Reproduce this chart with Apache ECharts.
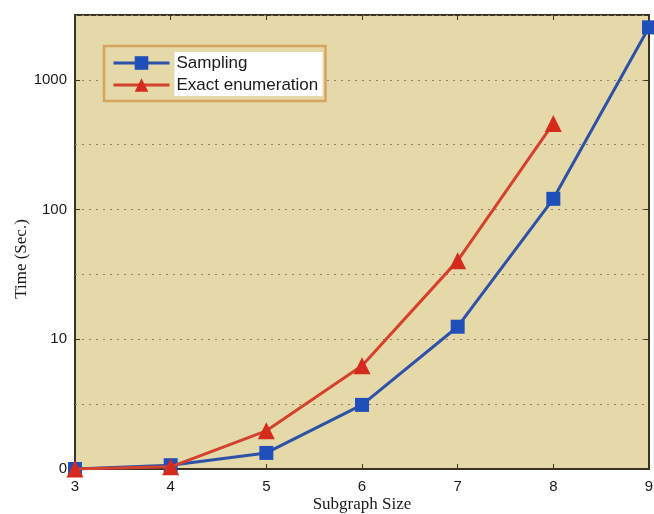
<!DOCTYPE html>
<html>
<head>
<meta charset="utf-8">
<script src="https://cdn.jsdelivr.net/npm/echarts@6/dist/echarts.min.js"></script>
<style>
  html, body { margin: 0; padding: 0; background: #ffffff; overflow: hidden; }
  #chart { width: 654px; height: 514px; }
</style>
</head>
<body>
<div id="chart"></div>
<script>
// Subgraph sizes on the x axis
const subgraphSizes = [3, 4, 5, 6, 7, 8, 9];
// Running time in seconds (log scale)
const samplingTimes = [1.0, 1.07, 1.33, 3.12, 12.5, 121, 2540];
const exactTimes = [1.0, 1.04, 1.97, 6.24, 40.4, 461];
// Decade tick values and the text printed for them
const yTickValues = [1, 10, 100, 1000];
const yTickLabels = ['0', '10', '100', '1000'];
// Half-decade grid lines between the labelled ticks
const halfDecades = [3.1623, 31.623, 316.23];
const yMin = 1;
const yMax = 3162.28;

const chart = echarts.init(document.getElementById('chart'), null, { renderer: 'canvas' });

const toPairs = (xs, ys) => ys.map((y, i) => [xs[i], y]);

const frameColor = '#3b3323';
const gridColor = '#8f8768';
const gridDash = [2, 5];
const sansFont = '"Liberation Sans", Arial, sans-serif';
const serifFont = '"Liberation Serif", "Times New Roman", serif';

function yLabel(v) {
  for (let i = 0; i < yTickValues.length; i++) {
    if (Math.abs(v - yTickValues[i]) / yTickValues[i] < 1e-6) return yTickLabels[i];
  }
  return '';
}

const option = {
  backgroundColor: '#ffffff',
  animation: false,
  grid: {
    left: 75, right: 5, top: 15, bottom: 45,
    outerBoundsMode: 'none',
    containLabel: false,
    show: true,
    backgroundColor: '#e5d8a9',
    borderColor: frameColor,
    borderWidth: 2
  },
  legend: {
    left: 104, top: 46,
    orient: 'vertical',
    itemWidth: 56, itemHeight: 17,
    itemGap: 0,
    padding: [6, 3, 5, 8],
    backgroundColor: '#e5d8a9',
    borderColor: '#d6a45e',
    borderWidth: 2.5,
    lineStyle: { width: 3 },
    textStyle: {
      fontFamily: sansFont, fontSize: 17, lineHeight: 17, color: '#1a1a1a',
      backgroundColor: '#ffffff', padding: [3, 2, 2, 2], width: 144
    },
    data: ['Sampling', 'Exact enumeration']
  },
  xAxis: [{
    type: 'value',
    min: 3, max: 9, interval: 1,
    name: 'Subgraph Size',
    nameLocation: 'middle',
    nameGap: 27,
    nameMoveOverlap: false,
    nameTextStyle: { fontFamily: serifFont, fontSize: 17, color: '#1a1a1a' },
    axisLine: { show: true, lineStyle: { color: frameColor, width: 2 } },
    axisTick: { show: true, inside: true, length: 5, lineStyle: { color: frameColor } },
    axisLabel: { fontFamily: sansFont, fontSize: 15, color: '#1a1a1a', margin: 10 },
    splitLine: { show: false }
  }, {
    type: 'value',
    position: 'top',
    min: 3, max: 9, interval: 1,
    axisLine: { show: false },
    axisTick: { show: true, inside: true, length: 5, lineStyle: { color: frameColor } },
    axisLabel: { show: false },
    splitLine: { show: false }
  }],
  yAxis: [{
    type: 'log',
    logBase: 10,
    min: yMin, max: yMax,
    name: 'Time (Sec.)',
    nameLocation: 'middle',
    nameGap: 45,
    nameMoveOverlap: false,
    nameTextStyle: { fontFamily: serifFont, fontSize: 17, color: '#1a1a1a', padding: [0, 34, 0, 0] },
    axisLine: { show: true, lineStyle: { color: frameColor, width: 2 } },
    axisTick: { show: true, inside: true, length: 5, lineStyle: { color: frameColor } },
    axisLabel: {
      fontFamily: sansFont, fontSize: 15, color: '#1a1a1a', margin: 8,
      showMaxLabel: false,
      formatter: yLabel
    },
    splitLine: { show: true, lineStyle: { color: gridColor, type: gridDash, width: 1.2 } }
  }, {
    type: 'log',
    logBase: 10,
    position: 'right',
    min: yMin, max: yMax,
    axisLine: { show: false },
    axisTick: { show: true, inside: true, length: 5, lineStyle: { color: frameColor } },
    axisLabel: { show: false },
    splitLine: { show: false }
  }],
  series: [{
    name: 'Sampling',
    type: 'line',
    data: toPairs(subgraphSizes, samplingTimes),
    color: '#2a4fae',
    lineStyle: { width: 3, color: '#2e51a8' },
    symbol: 'rect',
    symbolSize: 14,
    itemStyle: { color: '#1f4fb8' },
    z: 3,
    markLine: {
      silent: true,
      symbol: 'none',
      label: { show: false },
      lineStyle: { color: gridColor, type: gridDash, width: 1.2 },
      z: 1,
      data: halfDecades.map(v => ({ yAxis: v }))
    }
  }, {
    name: 'Exact enumeration',
    type: 'line',
    data: toPairs(subgraphSizes, exactTimes),
    color: '#d3382c',
    lineStyle: { width: 3, color: '#d4412f' },
    symbol: 'triangle',
    symbolSize: 17,
    itemStyle: { color: '#d52b1e' },
    z: 4
  }]
};

chart.setOption(option);
</script>
</body>
</html>
